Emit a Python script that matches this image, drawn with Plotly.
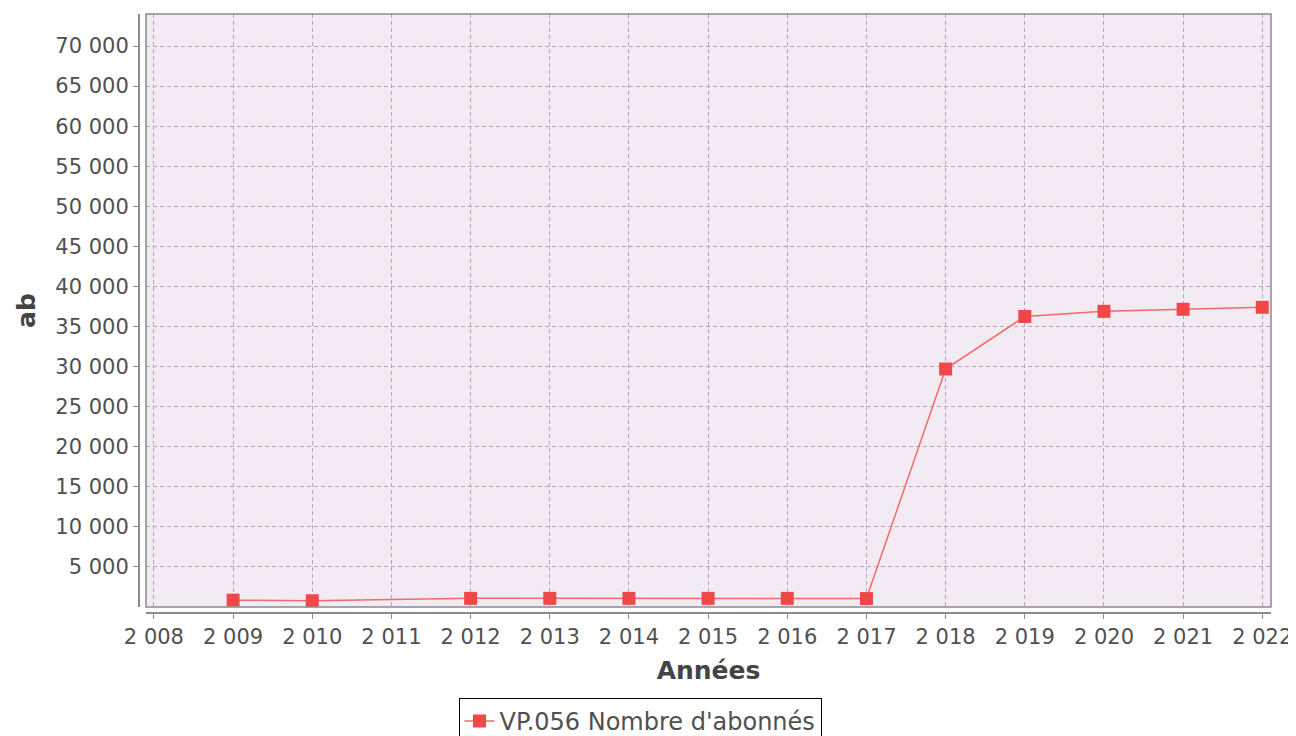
import plotly.graph_objects as go

years = [2009, 2010, 2012, 2013, 2014, 2015, 2016, 2017, 2018, 2019, 2020, 2021, 2022]
abonnes = [850, 780, 1080, 1080, 1080, 1080, 1080, 1050, 29700, 36250, 36900, 37150, 37400]
series_name = "VP.056 Nombre d'abonnés"

x_tickvals = list(range(2008, 2023))
x_ticktext = ["2 008", "2 009", "2 010", "2 011", "2 012", "2 013", "2 014", "2 015",
              "2 016", "2 017", "2 018", "2 019", "2 020", "2 021", "2 022"]
y_tickvals = list(range(5000, 70001, 5000))
y_ticktext = ["5 000", "10 000", "15 000", "20 000", "25 000", "30 000", "35 000",
              "40 000", "45 000", "50 000", "55 000", "60 000", "65 000", "70 000"]

# page has an 8px body margin; figure is drawn at offset (8, 8)
W, H = 1288, 728
ml, mr, mt, mb = 131, 25, 6, 123
pw, ph = W - ml - mr, H - mt - mb
xd0 = 7 / pw
yd0 = 6 / ph

font_family = "DejaVu Sans"
txt_color = "#505050"
tick_font = dict(family=font_family, size=21, color=txt_color)
grid_col = "#BDA2BF"

fig = go.Figure()
fig.add_trace(go.Scatter(
    x=years, y=abonnes, name=series_name, mode="lines+markers",
    line=dict(color="#F26A6A", width=1.5),
    marker=dict(symbol="square", size=13, color="#F04848"),
))

fig.update_layout(
    width=W, height=H,
    margin=dict(l=ml, r=mr, t=mt, b=mb, autoexpand=False),
    paper_bgcolor="white",
    plot_bgcolor="#F3EBF4",
    showlegend=True,
    font=dict(family=font_family, color=txt_color),
    xaxis=dict(
        domain=[xd0, 1], anchor="free", position=0,
        range=[2007.9, 2022.11],
        tickvals=x_tickvals, ticktext=x_ticktext, tickfont=tick_font,
        showgrid=True, gridcolor=grid_col, griddash="4px,3px", gridwidth=1,
        showline=True, linecolor="#8a8a8a", linewidth=2,
        ticks="outside", ticklen=5, tickcolor="#8a8a8a",
        zeroline=False,
        title=dict(text="<b>Années</b>", font=dict(family=font_family, size=25, color="#444444"), standoff=12),
    ),
    yaxis=dict(
        domain=[yd0, 1], anchor="free", position=0,
        range=[0, 74000],
        tickvals=y_tickvals, ticktext=y_ticktext, tickfont=tick_font,
        showgrid=True, gridcolor=grid_col, griddash="4px,3px", gridwidth=1,
        showline=True, linecolor="#8a8a8a", linewidth=2,
        ticks="outside", ticklen=5, tickcolor="#8a8a8a",
        zeroline=False,
        title=dict(text="<b>ab</b>", font=dict(family=font_family, size=25, color="#444444"), standoff=12),
    ),
    legend=dict(
        orientation="h", xref="container", yref="container",
        x=632 / W, xanchor="center", y=1 - 690 / H, yanchor="top",
        bordercolor="black", borderwidth=1, bgcolor="white",
        font=dict(family=font_family, size=24, color=txt_color),
        itemwidth=30,
    ),
    shapes=[dict(type="rect", xref="paper", yref="paper", x0=xd0, x1=1, y0=yd0, y1=1,
                 line=dict(color="#8a8a8a", width=1.5), layer="above")],
)

fig.write_html("out.html")
